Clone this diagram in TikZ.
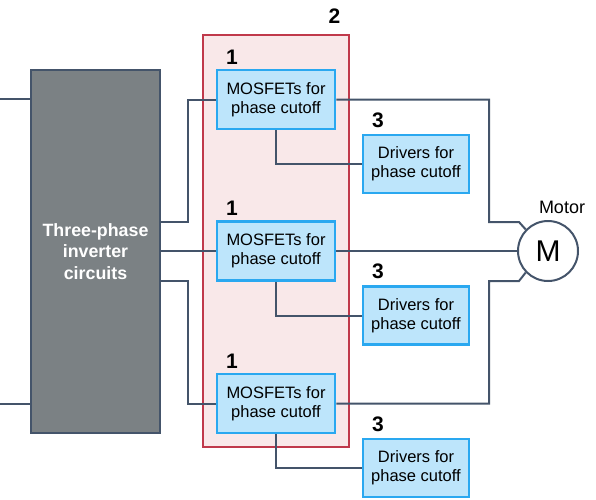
\documentclass[tikz,border=0pt]{standalone}
\usepackage{fontspec}
\setmainfont{Liberation Sans}
\definecolor{wirecol}{HTML}{44546A}
\definecolor{boxfill}{HTML}{BDE5FB}
\definecolor{boxline}{HTML}{2AA8F0}
\definecolor{invfill}{HTML}{7B8184}
\definecolor{grpline}{HTML}{C0394B}
\definecolor{grpfill}{HTML}{F9E8E9}
\begin{document}
\begin{tikzpicture}[x=1pt,y=-1pt,join=miter]
    \tikzstyle{wire} = [draw=wirecol,line width=2pt]
    \tikzstyle{mosbox} = [draw=boxline,fill=boxfill,line width=2.5pt,align=center,
                          minimum width=118pt,minimum height=59pt,inner sep=0pt,
                          font=\fontsize{16.5}{19}\selectfont]
    \tikzstyle{drvbox} = [mosbox,minimum width=106pt,minimum height=58pt]
    \tikzstyle{num} = [font=\fontsize{21}{21}\selectfont\bfseries,inner sep=0pt]

    \useasboundingbox (0,0) rectangle (596,499);

    % group of MOSFETs
    \filldraw[draw=grpline,fill=grpfill,line width=2pt] (203,35) rectangle (349,447);
    \node[num] (n2) at (334.5,16.5) {2};

    % inverter
    \node[draw=wirecol,fill=invfill,line width=2.5pt,minimum width=129pt,
          minimum height=363pt,inner sep=0pt,align=center,text=white,
          font=\fontsize{17.8}{21.5}\selectfont\bfseries] (inv) at (95.5,251.5)
          {Three-phase\\inverter\\circuits};

    % cutoff stages
    \foreach \i/\y in {1/99.5,2/251,3/403.5}{
        \node[mosbox] (mos\i) at (276,\y) {MOSFETs for\\phase cutoff};
        \node[num] (n1\i) at (232,\y-42.5) {1};
        \node[drvbox] (drv\i) at (416,\y+64.5) {Drivers for\\phase cutoff};
        \node[num] (n3\i) at (378,\y+20.5) {3};
        \draw[wire] (mos\i.south) |- (drv\i.west);
    }

    % motor
    \node[circle,draw=wirecol,line width=2pt,minimum size=60pt,inner sep=0pt,
          font=\fontsize{30}{30}\selectfont] (motor) at (548,251) {M};
    \node[font=\fontsize{18}{18}\selectfont,anchor=base] (mlab) at (562,213) {Motor};

    % wires
    \coordinate (inL1) at (0,99);
    \coordinate (inL2) at (0,404);
    \draw[wire] (inL1) -- (inv.west |- inL1);
    \draw[wire] (inL2) -- (inv.west |- inL2);

    \coordinate (outA) at (160,222);
    \coordinate (outC) at (160,281);
    \draw[wire] (outA) -| (188,99.5) -- (mos1.west);
    \draw[wire] (inv.east |- mos2.west) -- (mos2.west);
    \draw[wire] (outC) -| (188,403.5) -- (mos3.west);

    \draw[wire] (mos1.east) -| (489,222) -- (519,222) -- (motor.136);
    \draw[wire] (mos2.east) -- (motor.west);
    \draw[wire] (mos3.east) -| (489,281) -- (519,281) -- (motor.-136);
\end{tikzpicture}
\end{document}
